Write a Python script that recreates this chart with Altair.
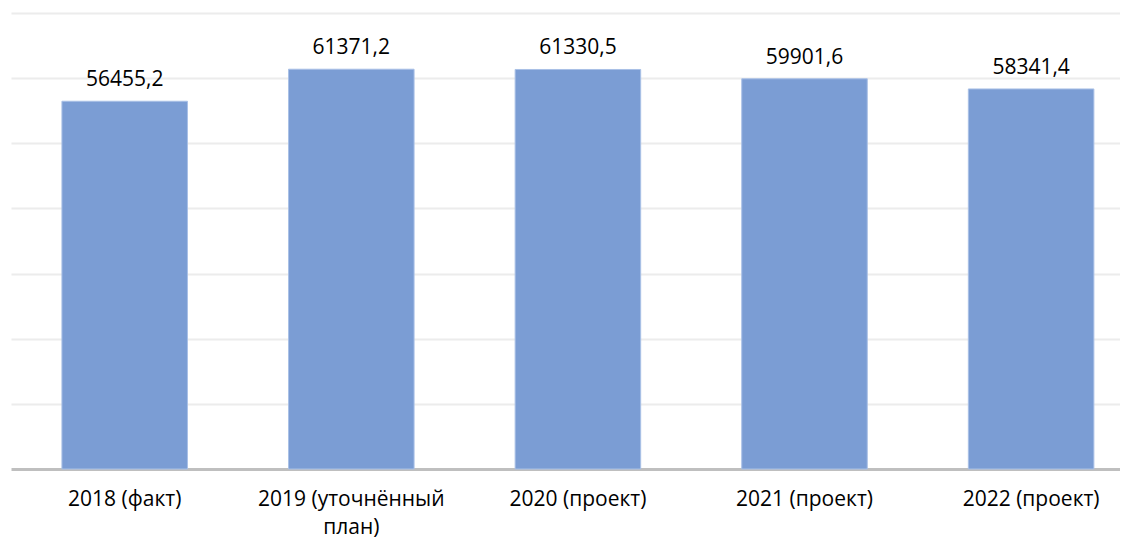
import altair as alt
import pandas as pd

categories = ["2018 (факт)", "2019 (уточнённый план)", "2020 (проект)", "2021 (проект)", "2022 (проект)"]
values = [56455.2, 61371.2, 61330.5, 59901.6, 58341.4]
value_labels = ["56455,2", "61371,2", "61330,5", "59901,6", "58341,4"]

df = pd.DataFrame({"cat": categories, "val": values, "lbl": value_labels})

FONT = "Open Sans"

x = alt.X(
    "cat:N",
    sort=categories,
    title=None,
    scale=alt.Scale(paddingInner=0.446, paddingOuter=0.17, align=0.661),
    axis=alt.Axis(
        labelAngle=0,
        labelFont=FONT,
        labelFontSize=21,
        labelColor="#000000",
        labelPadding=19,
        labelLineHeight=28,
        labelLimit=400,
        ticks=False,
        domainColor="#bfbfbf",
        domainWidth=3,
        grid=False,
        labelExpr="datum.label == '2019 (уточнённый план)' ? ['2019 (уточнённый', 'план)'] : datum.label",
    ),
)
y = alt.Y(
    "val:Q",
    title=None,
    scale=alt.Scale(domain=[0, 70000], nice=False),
    axis=alt.Axis(
        values=[10000, 20000, 30000, 40000, 50000, 60000, 70000],
        labels=False,
        ticks=False,
        domain=False,
        grid=True,
        gridColor="#ececec",
        gridWidth=2,
    ),
)

bars = alt.Chart(df).mark_bar(color="#7b9dd4", stroke="#a9c0e6", strokeWidth=1).encode(x=x, y=y)
text = alt.Chart(df).mark_text(
    font=FONT, fontSize=21, color="#000000", baseline="alphabetic", dy=-15
).encode(
    x=alt.X("cat:N", sort=categories),
    y=alt.Y("val:Q"),
    text="lbl:N",
)

chart = (
    alt.layer(bars, text)
    .properties(
        width=1109,
        height=456,
        autosize=alt.AutoSizeParams(type="none"),
        padding={"left": 3, "top": 5, "right": 0, "bottom": 69},
    )
    .configure(background="#ffffff")
    .configure_view(strokeWidth=0)
)

chart.save("out.html", embed_options={"renderer": "svg", "actions": False})
